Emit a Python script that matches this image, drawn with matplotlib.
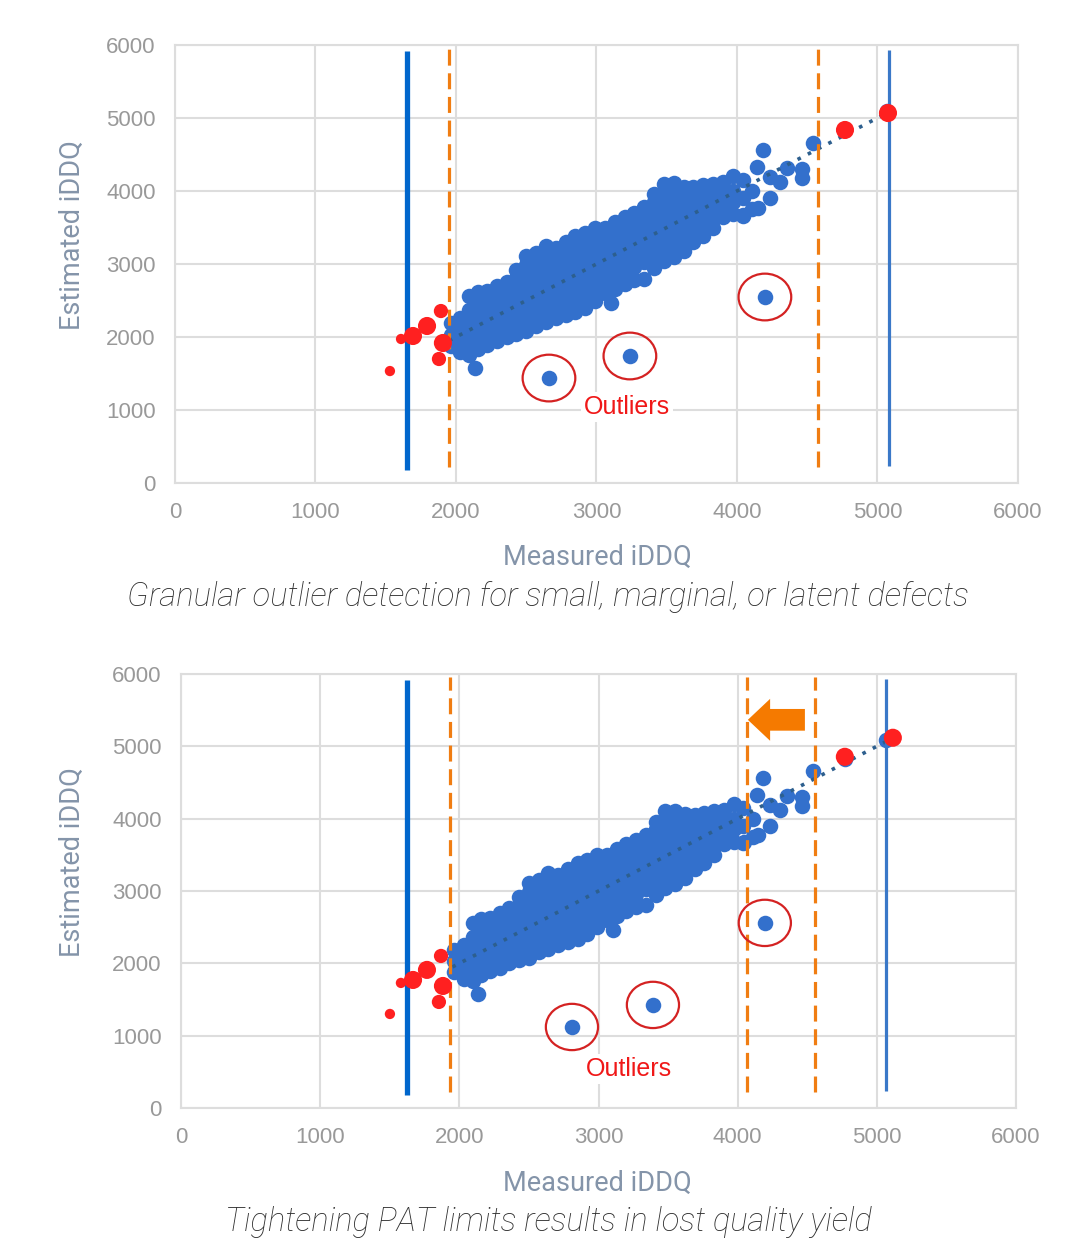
import numpy as np
import matplotlib.pyplot as plt
from matplotlib.patches import Ellipse

# main cloud of measured vs estimated iDDQ, read column by column (x, list of y)
cloud_columns = [
    (1965, [1880, 2030, 2190]),
    (2030, [1790, 1940, 2100, 2260]),
    (2095, [1760, 1900, 2060, 2210, 2370, 2560]),
    (2155, [1840, 2000, 2140, 2300, 2450, 2610]),
    (2220, [1890, 2030, 2190, 2330, 2480, 2630]),
    (2290, [1940, 2100, 2240, 2400, 2560, 2700]),
    (2360, [2000, 2140, 2300, 2450, 2600, 2760]),
    (2430, [2040, 2200, 2350, 2490, 2650, 2800, 2920]),
    (2500, [2080, 2230, 2390, 2530, 2680, 2830, 2990, 3110]),
    (2570, [2150, 2290, 2450, 2600, 2740, 2900, 3050, 3150]),
    (2640, [2200, 2350, 2500, 2650, 2800, 2960, 3100, 3250]),
    (2710, [2260, 2400, 2560, 2700, 2850, 3000, 3140, 3220]),
    (2780, [2300, 2450, 2600, 2760, 2900, 3050, 3200, 3300]),
    (2850, [2340, 2500, 2660, 2800, 2950, 3100, 3250, 3380]),
    (2920, [2400, 2560, 2700, 2850, 3010, 3150, 3300, 3430]),
    (2990, [2500, 2650, 2800, 2960, 3100, 3250, 3400, 3500]),
    (3060, [2600, 2750, 2910, 3050, 3200, 3350, 3500]),
    (3130, [2660, 2830, 2980, 3140, 3280, 3430, 3580]),
    (3200, [2720, 2900, 3060, 3200, 3350, 3500, 3650]),
    (3270, [2780, 2960, 3100, 3250, 3410, 3550, 3700]),
    (3340, [2800, 3030, 3180, 3330, 3480, 3640, 3780]),
    (3410, [2950, 3100, 3250, 3400, 3550, 3700, 3850, 3960]),
    (3480, [3040, 3200, 3350, 3500, 3650, 3800, 3950, 4100]),
    (3550, [3100, 3260, 3400, 3560, 3700, 3850, 4000, 4110]),
    (3620, [3180, 3330, 3480, 3630, 3780, 3930, 4060]),
    (3690, [3300, 3450, 3600, 3750, 3900, 4050]),
    (3760, [3380, 3530, 3680, 3830, 3980, 4080]),
    (3830, [3500, 3650, 3800, 3950, 4100]),
    (3900, [3650, 3800, 3950, 4120]),
    (3970, [3680, 3850, 4000, 4200]),
    (4040, [3660, 3900, 4150]),
    (4110, [3750, 4000]),
]
stray_x = [2135, 3103, 4142, 4235, 4235, 4306, 4185, 4356, 4463, 4463, 4541, 4149, 4043, 4770, 5065]
stray_y = [1575, 2466, 4329, 4192, 3904, 4123, 4562, 4315, 4178, 4300, 4658, 3767, 3671, 4830, 5090]

# failing parts (red), size class 0 small / 1 medium / 2 big
red_size = [0, 0, 2, 2, 1, 2, 1, 2, 2]
red_top_x = [1530, 1609, 1694, 1794, 1893, 1907, 1879, 4769, 5075]
red_top_y = [1534, 1973, 2014, 2151, 2356, 1918, 1699, 4836, 5068]
red_bot_x = [1501, 1580, 1667, 1767, 1868, 1882, 1853, 4770, 5115]
red_bot_y = [1300, 1729, 1770, 1909, 2102, 1687, 1466, 4855, 5118]

# circled outliers per chart
outliers_top_x = [2662, 3238, 4199]
outliers_top_y = [1438, 1740, 2548]
outliers_bot_x = [2809, 3391, 4195]
outliers_bot_y = [1120, 1425, 2559]

# limits
trend_x = [1950, 5100]
trend_y = [1950, 5100]
blue_limits_top = [1651, 5082]
orange_limits_top = [1950, 4576]
blue_limits_bot = [1624, 5065]
orange_limits_bot = [1932, 4066, 4555]

captions = ["Granular outlier detection for small, marginal, or latent defects",
            "Tightening PAT limits results in lost quality yield"]

ticks = [0, 1000, 2000, 3000, 4000, 5000, 6000]

BLUE = "#3370cc"
RED = "#ff2020"
ORANGE = "#f07d12"
GRID = "#dddddd"
TICK = "#999999"
LABEL = "#8494a9"


def cloud_points():
    xs, ys = [], []
    for x, col in cloud_columns:
        for y in col:
            xs.append(x)
            ys.append(y)
    return np.array(xs + stray_x), np.array(ys + stray_y)


def dibujar_panel(ax, blue_lim, orange_lim, out_x, out_y, rx, ry, texto_y):
    ax.set_xlim(0, 6000)
    ax.set_ylim(0, 6000)
    ax.set_xticks(ticks)
    ax.set_yticks(ticks)
    ax.grid(True, color=GRID, linewidth=1.5)
    ax.set_axisbelow(True)
    for s in ax.spines.values():
        s.set_color(GRID)
        s.set_linewidth(1.5)
    ax.tick_params(length=0, labelsize=16, labelcolor=TICK, pad=14)
    for lab in ax.get_xticklabels() + ax.get_yticklabels():
        lab.set_fontfamily("Liberation Sans")

    cx, cy = cloud_points()
    ax.scatter(cx, cy, s=125, color=BLUE, linewidths=0, zorder=3)
    ax.scatter(out_x, out_y, s=125, color=BLUE, linewidths=0, zorder=3)
    ax.plot(trend_x, trend_y, color="#2d5f8e", linestyle=(0, (1, 2.2)),
            linewidth=2.6, zorder=4)

    ax.vlines(blue_lim[0], 180, 5920, color="#0066cc", linewidth=3.8, zorder=5)
    ax.vlines(blue_lim[1], 240, 5930, color="#3a78c8", linewidth=2.3, zorder=5)
    for xo in orange_lim:
        ax.vlines(xo, 220, 5960, color=ORANGE, linewidth=2.3,
                  linestyles=[(0, (5, 2.4))], zorder=5)

    sizes = {0: 55, 1: 105, 2: 170}
    ax.scatter(rx, ry, s=[sizes[k] for k in red_size], color=RED,
               linewidths=0, zorder=6)

    for x, y in zip(out_x, out_y):
        ax.add_patch(Ellipse((x, y), 375, 640, fill=False, edgecolor="#d42222",
                             linewidth=1.6, zorder=6))
    ax.text(3217, texto_y, "Outliers", color="#f01818", fontsize=18,
            family="Liberation Sans", ha="center", va="center", zorder=7,
            bbox=dict(facecolor="white", edgecolor="none", pad=2))


def main():
    fig = plt.figure(figsize=(10.65, 12.43), dpi=100)
    ax1 = fig.add_axes([0.1643, 0.6114, 0.7915, 0.3524])
    ax2 = fig.add_axes([0.1700, 0.1086, 0.7840, 0.3492])

    dibujar_panel(ax1, blue_limits_top, orange_limits_top,
                  outliers_top_x, outliers_top_y, red_top_x, red_top_y, 1041)
    dibujar_panel(ax2, blue_limits_bot, orange_limits_bot,
                  outliers_bot_x, outliers_bot_y, red_bot_x, red_bot_y, 539)
    ax2.arrow(4483, 5366, -410, 0, width=300, head_width=580, head_length=160,
              length_includes_head=True, color="#f57a00", linewidth=0, zorder=7)

    lab_font = dict(family=["Roboto", "DejaVu Sans"], weight="normal", color=LABEL, fontsize=19.5)
    fig.text(0.561, 0.5519, "Measured iDDQ", ha="center", va="center", **lab_font)
    fig.text(0.561, 0.0483, "Measured iDDQ", ha="center", va="center", **lab_font)
    fig.text(0.0676, 0.811, "Estimated iDDQ", ha="center", va="center", rotation=90, **lab_font)
    fig.text(0.0676, 0.3065, "Estimated iDDQ", ha="center", va="center", rotation=90, **lab_font)

    cap_font = dict(family=["Roboto", "DejaVu Sans"], weight="light", style="italic",
                    color="#2e2e2e", fontsize=23.6)
    fig.text(0.5146, 0.5197, captions[0], ha="center", va="center", **cap_font)
    fig.text(0.5146, 0.0169, captions[1], ha="center", va="center", **cap_font)

    fig.savefig("out.png", dpi=100)


main()
